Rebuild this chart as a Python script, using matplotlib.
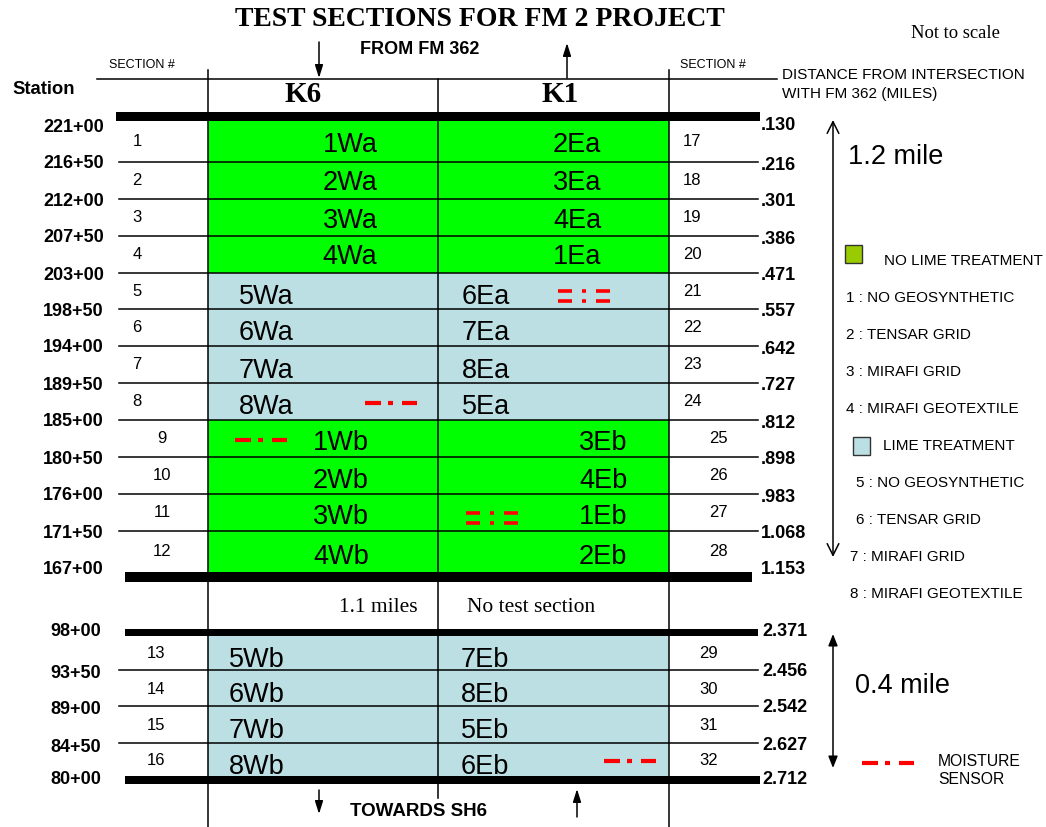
import matplotlib
matplotlib.use("Agg")
import matplotlib.pyplot as plt
from matplotlib.patches import Rectangle

# ---------------- data ----------------
stations_upper = ["221+00", "216+50", "212+00", "207+50", "203+00", "198+50", "194+00",
                  "189+50", "185+00", "180+50", "176+00", "171+50", "167+00"]
dist_upper = [".130", ".216", ".301", ".386", ".471", ".557", ".642", ".727", ".812",
              ".898", ".983", "1.068", "1.153"]
stations_lower = ["98+00", "93+50", "89+00", "84+50", "80+00"]
dist_lower = ["2.371", "2.456", "2.542", "2.627", "2.712"]

west_upper = ["1Wa", "2Wa", "3Wa", "4Wa", "5Wa", "6Wa", "7Wa", "8Wa", "1Wb", "2Wb", "3Wb", "4Wb"]
east_upper = ["2Ea", "3Ea", "4Ea", "1Ea", "6Ea", "7Ea", "8Ea", "5Ea", "3Eb", "4Eb", "1Eb", "2Eb"]
west_lower = ["5Wb", "6Wb", "7Wb", "8Wb"]
east_lower = ["7Eb", "8Eb", "5Eb", "6Eb"]

sec_left_upper = [1, 2, 3, 4, 5, 6, 7, 8, 9, 10, 11, 12]
sec_right_upper = [17, 18, 19, 20, 21, 22, 23, 24, 25, 26, 27, 28]
sec_left_lower = [13, 14, 15, 16]
sec_right_lower = [29, 30, 31, 32]

# treatment per row: True = lime treatment
lime_upper = [False] * 4 + [True] * 4 + [False] * 4
lime_lower = [True] * 4

legend_no_lime = ["1 : NO GEOSYNTHETIC", "2 : TENSAR GRID", "3 : MIRAFI GRID", "4 : MIRAFI GEOTEXTILE"]
legend_lime = ["5 : NO GEOSYNTHETIC", "6 : TENSAR GRID", "7 : MIRAFI GRID", "8 : MIRAFI GEOTEXTILE"]

# moisture sensors: (block, row, x-centre, kind)
sensors = [("upper", 7, 391, "dashdot"), ("upper", 8, 261, "dashdot"),
           ("upper", 4, 584, "double"), ("upper", 10, 492, "double"),
           ("lower", 3, 630, "dashdot")]

# ---------------- layout ----------------
GREEN = "#00FF00"
BLUE = "#BBDFE3"
RED = "#FF0000"
SANS = "Liberation Sans"
SERIF = "Liberation Serif"

XL, XM, XR = 208, 438, 669
up_b = [121, 162, 199, 236, 273, 309, 346, 383, 420, 457, 494, 531, 572]
lo_b = [636, 670, 706, 743, 776]

fig = plt.figure(figsize=(10.46, 8.27), dpi=100)
ax = fig.add_axes([0, 0, 1, 1])
ax.set_xlim(0, 1046)
ax.set_ylim(827, 0)
ax.axis("off")


def row_center(bounds, i):
    return (bounds[i] + bounds[i + 1]) / 2


# coloured cells
for bounds, lime in ((up_b, lime_upper), (lo_b, lime_lower)):
    for i, l in enumerate(lime):
        ax.add_patch(Rectangle((XL, bounds[i]), XR - XL, bounds[i + 1] - bounds[i],
                               facecolor=BLUE if l else GREEN, edgecolor="none", zorder=1))

# thin row lines
for bounds in (up_b[1:-1], lo_b[1:-1]):
    for y in bounds:
        ax.plot([119, 758], [y, y], color="black", lw=1.1, zorder=3)

# thick bars
for (x0, x1, y0, y1) in [(116, 760, 112, 121), (125, 752, 572, 582),
                         (125, 758, 629, 636), (125, 760, 776, 784)]:
    ax.add_patch(Rectangle((x0, y0), x1 - x0, y1 - y0, facecolor="black", edgecolor="none", zorder=4))

# vertical lines and header line
ax.plot([XL, XL], [70, 827], color="black", lw=1.1, zorder=3)
ax.plot([XR, XR], [70, 827], color="black", lw=1.1, zorder=3)
ax.plot([XM, XM], [79, 798], color="black", lw=1.1, zorder=3)
ax.plot([97, 777], [79, 79], color="black", lw=1.1, zorder=3)

# titles / headers
ax.text(480, 19, "TEST SECTIONS FOR FM 2 PROJECT", family=SERIF, weight="bold",
        fontsize=20, ha="center", va="center")
ax.text(955, 33, "Not to scale", family=SERIF, fontsize=13.4, ha="center", va="center")
ax.text(420, 50, "FROM FM 362", family=SANS, weight="bold", fontsize=13, ha="center", va="center")
ax.text(142, 65, "SECTION #", family=SANS, fontsize=9, ha="center", va="center")
ax.text(713, 65, "SECTION #", family=SANS, fontsize=9, ha="center", va="center")
ax.text(12, 89, "Station", family=SANS, weight="bold", fontsize=13.3, ha="left", va="center")
ax.text(782, 75, "DISTANCE FROM INTERSECTION", family=SANS, fontsize=11, ha="left", va="center")
ax.text(782, 94, "WITH FM 362 (MILES)", family=SANS, fontsize=11, ha="left", va="center")
ax.text(303, 94, "K6", family=SERIF, weight="bold", fontsize=21, ha="center", va="center")
ax.text(560, 94, "K1", family=SERIF, weight="bold", fontsize=21, ha="center", va="center")

arrow = dict(arrowstyle="-|>,head_length=0.7,head_width=0.22", color="black", lw=1.1,
             mutation_scale=11, shrinkA=0, shrinkB=0)
ax.annotate("", xy=(319, 78), xytext=(319, 42), arrowprops=arrow)
ax.annotate("", xy=(567, 43), xytext=(567, 78), arrowprops=arrow)
ax.annotate("", xy=(319, 814), xytext=(319, 790), arrowprops=arrow)
ax.annotate("", xy=(577, 789), xytext=(577, 817), arrowprops=arrow)
ax.text(418, 812, "TOWARDS SH6", family=SANS, weight="bold", fontsize=13.5, ha="center", va="center")

# station and distance labels
st_y_up = [127] + [y + 2 for y in up_b[1:-1]] + [569]
ds_y_up = [126] + [y + 3 for y in up_b[1:-1]] + [569]
for s, d, ys, yd in zip(stations_upper, dist_upper, st_y_up, ds_y_up):
    ax.text(104, ys, s, family=SANS, weight="bold", fontsize=13, ha="right", va="center")
    ax.text(761, yd, d, family=SANS, weight="bold", fontsize=13, ha="left", va="center")
st_y_lo = [632] + [y + 4 for y in lo_b[1:-1]] + [779]
ds_y_lo = [632] + [y + 2 for y in lo_b[1:-1]] + [780]
for s, d, ys, yd in zip(stations_lower, dist_lower, st_y_lo, ds_y_lo):
    ax.text(101, ys, s, family=SANS, weight="bold", fontsize=13, ha="right", va="center")
    ax.text(762, yd, d, family=SANS, weight="bold", fontsize=13, ha="left", va="center")

# section numbers
for i, (a, b) in enumerate(zip(sec_left_upper, sec_right_upper)):
    y = row_center(up_b, i)
    ax.text(137 if i < 8 else 162, y, str(a), family=SANS, fontsize=12, ha="center", va="center")
    ax.text(692 if i < 8 else 718, y, str(b), family=SANS, fontsize=12, ha="center", va="center")
for i, (a, b) in enumerate(zip(sec_left_lower, sec_right_lower)):
    y = row_center(lo_b, i) + 1
    ax.text(156, y, str(a), family=SANS, fontsize=12, ha="center", va="center")
    ax.text(709, y, str(b), family=SANS, fontsize=12, ha="center", va="center")

# cell labels
up_wx = [350] * 4 + [266] * 4 + [341] * 4
up_ex = [577] * 4 + [486] * 4 + [603] * 4
up_off = [3] * 4 + [6] * 4 + [5] * 4
for i, (w, e) in enumerate(zip(west_upper, east_upper)):
    y = row_center(up_b, i) + up_off[i]
    ax.text(up_wx[i], y, w, family=SANS, fontsize=19.5, ha="center", va="center", zorder=5)
    ax.text(up_ex[i], y, e, family=SANS, fontsize=19.5, ha="center", va="center", zorder=5)
for i, (w, e) in enumerate(zip(west_lower, east_lower)):
    y = row_center(lo_b, i) + 7
    ax.text(257, y, w, family=SANS, fontsize=19.5, ha="center", va="center", zorder=2)
    ax.text(485, y, e, family=SANS, fontsize=19.5, ha="center", va="center", zorder=2)

ax.text(418, 607, "1.1 miles", family=SERIF, fontsize=15.5, ha="right", va="center")
ax.text(467, 607, "No test section", family=SERIF, fontsize=15.5, ha="left", va="center")


# moisture sensor symbols
def dashdot(xc, y):
    x0 = xc - 26
    for a, b in [(0, 16), (23, 28), (37, 52)]:
        ax.plot([x0 + a, x0 + b], [y, y], color=RED, lw=3, solid_capstyle="butt", zorder=6)


def double(xc, y):
    x0 = xc - 26
    for dy in (-5, 5):
        for a, b in [(0, 14), (24, 28), (38, 52)]:
            ax.plot([x0 + a, x0 + b], [y + dy, y + dy], color=RED, lw=2.6,
                    solid_capstyle="butt", zorder=6)


for blk, r, xc, kind in sensors:
    b = up_b if blk == "upper" else lo_b
    if kind == "dashdot":
        dashdot(xc, row_center(b, r) + 1)
    else:
        double(xc, row_center(b, r) + 5)

# right-hand distance arrows
ax.annotate("", xy=(833, 120), xytext=(833, 557),
            arrowprops=dict(arrowstyle="<->,head_length=0.6,head_width=0.3", color="black",
                            lw=1.1, mutation_scale=14, shrinkA=0, shrinkB=0))
ax.text(848, 157, "1.2 mile", family=SANS, fontsize=19.5, ha="left", va="center")
ax.annotate("", xy=(833, 634), xytext=(833, 768),
            arrowprops=dict(arrowstyle="<|-|>,head_length=0.5,head_width=0.2", color="black",
                            lw=1.1, mutation_scale=14, shrinkA=0, shrinkB=0))
ax.text(855, 686, "0.4 mile", family=SANS, fontsize=19.5, ha="left", va="center")

# legend
ax.add_patch(Rectangle((845, 245), 17, 18, facecolor="#99CC00", edgecolor="#333333", lw=1, zorder=4))
ax.text(884, 261, "NO LIME TREATMENT", family=SANS, fontsize=11, ha="left", va="center")
for j, t in enumerate(legend_no_lime):
    ax.text(846, 298 + 37 * j, t, family=SANS, fontsize=11, ha="left", va="center")
ax.add_patch(Rectangle((853, 437), 17, 18, facecolor=BLUE, edgecolor="#333333", lw=1, zorder=4))
ax.text(883, 446, "LIME TREATMENT", family=SANS, fontsize=11, ha="left", va="center")
lx = [856, 856, 850, 850]
for j, t in enumerate(legend_lime):
    ax.text(lx[j], 483 + 37 * j, t, family=SANS, fontsize=11, ha="left", va="center")
dashdot(888, 763)
ax.text(938, 762, "MOISTURE", family=SANS, fontsize=11.3, ha="left", va="center")
ax.text(938, 779, "SENSOR", family=SANS, fontsize=11.3, ha="left", va="center")

fig.savefig("out.png", dpi=100)
